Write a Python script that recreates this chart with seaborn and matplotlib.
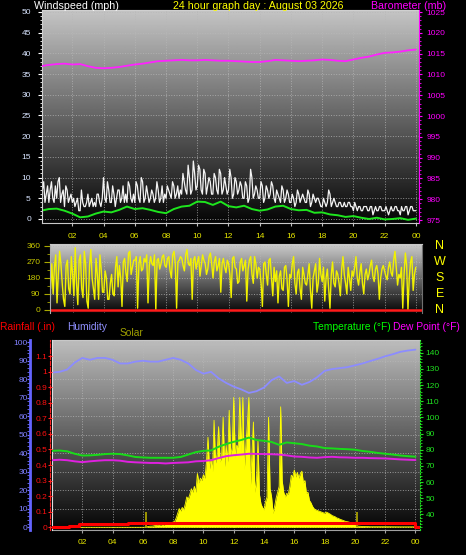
import numpy as np
import matplotlib
matplotlib.use("Agg")
import matplotlib.pyplot as plt
import matplotlib.transforms as mtransforms
from matplotlib.ticker import MultipleLocator, FixedLocator, FuncFormatter
import seaborn as sns

# ------------------------------------------------------------------ data
hour_ticks = [2, 4, 6, 8, 10, 12, 14, 16, 18, 20, 22, 24]
hour_labels = ["02", "04", "06", "08", "10", "12", "14", "16", "18", "20", "22", "00"]

# 5-minute samples (0h .. 24h), one row per hour
wind_gust = [5, 7, 9, 4, 6, 8, 4, 7, 9, 5, 4, 8,
             5, 9, 10, 4, 6, 7, 3, 8, 7, 4, 5, 6,
             4, 5, 3, 4, 5, 2, 2, 7, 4, 3, 3, 4,
             6, 3, 4, 5, 3, 4, 3, 6, 6, 4, 3, 5,
             10, 5, 4, 9, 7, 4, 4, 8, 6, 3, 5, 7,
             7, 4, 5, 8, 4, 6, 4, 9, 8, 5, 4, 6,
             4, 9, 8, 5, 4, 10, 9, 4, 5, 8, 6, 4,
             5, 7, 6, 4, 5, 9, 7, 4, 5, 8, 4, 6,
             5, 8, 7, 6, 5, 9, 8, 5, 6, 8, 5, 7,
             6, 11, 9, 7, 6, 13, 10, 6, 7, 14, 11, 7,
             8, 13, 12, 7, 6, 12, 11, 6, 8, 10, 9, 6,
             6, 11, 10, 7, 6, 12, 11, 6, 7, 10, 8, 6,
             7, 12, 10, 5, 6, 10, 9, 6, 7, 9, 8, 5,
             5, 9, 8, 4, 5, 12, 10, 5, 6, 8, 7, 5,
             5, 9, 8, 4, 5, 8, 7, 5, 6, 9, 8, 5,
             4, 7, 6, 5, 4, 8, 7, 4, 5, 7, 6, 4,
             4, 6, 5, 3, 4, 7, 6, 4, 5, 6, 5, 4,
             4, 7, 6, 3, 4, 6, 5, 4, 5, 5, 4, 3,
             3, 5, 4, 3, 4, 7, 6, 3, 4, 5, 4, 3,
             3, 4, 4, 3, 3, 4, 3, 3, 4, 4, 3, 3,
             2, 4, 3, 2, 3, 3, 2, 2, 3, 3, 3, 2,
             2, 3, 3, 1, 2, 3, 2, 2, 3, 3, 2, 2,
             2, 3, 2, 1, 2, 3, 2, 2, 3, 3, 2, 2,
             1, 3, 2, 2, 3, 3, 1, 2, 3, 3, 2, 2,
             2]

wind_dir = [270, 200, 150, 60, 240, 300, 180, 120, 260, 90, 240, 310,
            40, 200, 330, 260, 150, 60, 20, 250, 280, 120, 90, 300,
            200, 80, 350, 150, 30, 280, 310, 120, 70, 330, 260, 50,
            10, 250, 340, 180, 120, 60, 290, 200, 60, 310, 230, 100,
            100, 220, 180, 60, 60, 150, 200, 90, 80, 240, 300, 130,
            250, 180, 20, 270, 290, 210, 160, 320, 330, 200, 240, 280,
            280, 300, 10, 260, 300, 220, 230, 290, 270, 310, 40, 250,
            300, 260, 250, 310, 0, 280, 290, 230, 260, 300, 310, 250,
            240, 290, 300, 220, 180, 310, 330, 260, 10, 270, 280, 300,
            290, 250, 220, 310, 340, 260, 250, 290, 60, 280, 300, 230,
            270, 300, 190, 250, 310, 280, 260, 200, 230, 300, 320, 260,
            180, 270, 300, 220, 250, 290, 100, 260, 290, 240, 210, 280,
            260, 200, 70, 290, 300, 240, 230, 150, 160, 270, 290, 220,
            250, 280, 50, 230, 280, 300, 200, 150, 300, 260, 180, 240,
            230, 150, 20, 260, 270, 200, 140, 280, 290, 180, 80, 240,
            160, 220, 40, 190, 220, 120, 110, 240, 250, 170, 20, 200,
            180, 260, 300, 150, 90, 210, 230, 120, 60, 240, 200, 150,
            140, 200, 260, 110, 10, 180, 220, 260, 100, 150, 290, 200,
            160, 240, 50, 180, 230, 120, 10, 200, 270, 150, 130, 220,
            200, 150, 80, 230, 300, 200, 150, 90, 240, 180, 110, 220,
            190, 240, 300, 180, 140, 210, 260, 150, 90, 200, 230, 170,
            200, 250, 280, 190, 160, 230, 250, 200, 60, 180, 230, 250,
            220, 190, 170, 240, 270, 210, 190, 280, 330, 240, 140, 200,
            180, 240, 10, 200, 320, 250, 0, 180, 270, 300, 110, 200,
            240]

# half-hourly samples (0h .. 24h)
wind_avg = [2.0, 2.4, 2.5, 2.0, 1.3, 0.4, 0.6, 1.3, 1.8, 1.6, 2.2, 3.0, 2.4, 2.6, 2.2, 1.7, 1.4,
            2.4, 3.0, 3.2, 4.2, 4.1, 3.4, 4.2, 3.1, 2.8, 3.2, 2.4, 2.0, 2.3, 3.0, 3.2, 2.4, 2.1,
            2.2, 1.5, 1.6, 1.1, 0.9, 0.5, 0.7, 0.3, 0.0, 0.3, -0.1, 0.0, 0.2, -0.2, 0.1]

barometer = [1012.0, 1012.3, 1012.5, 1012.6, 1012.4, 1012.5, 1012.0, 1011.6, 1011.5, 1011.6,
             1011.8, 1012.1, 1012.4, 1012.6, 1012.9, 1013.2, 1013.3, 1013.4, 1013.5, 1013.4,
             1013.4, 1013.5, 1013.4, 1013.3, 1013.3, 1013.2, 1013.1, 1013.0, 1013.0, 1013.2,
             1013.5, 1013.4, 1013.3, 1013.2, 1013.3, 1013.4, 1013.6, 1013.5, 1013.3, 1013.2,
             1013.6, 1014.0, 1014.3, 1014.8, 1015.2, 1015.3, 1015.5, 1015.8, 1016.0]

humidity = [83.6, 84.0, 85.2, 89.0, 91.5, 90.5, 91.5, 91.5, 90.5, 88.5, 88.5, 89.5, 90.0, 89.5,
            89.5, 90.5, 91.5, 90.5, 88.5, 85.0, 83.0, 84.0, 80.5, 78.0, 76.0, 74.5, 72.6, 73.5,
            75.5, 79.5, 81.5, 78.0, 79.0, 77.0, 78.5, 81.0, 84.5, 85.5, 86.0, 86.5, 87.5, 88.5,
            89.8, 91.0, 92.4, 93.5, 94.8, 95.5, 96.0]

temperature = [79.3, 79.5, 79.0, 77.5, 76.4, 76.5, 76.8, 77.3, 77.5, 77.3, 76.5, 75.5, 75.2,
               75.0, 75.0, 75.0, 75.0, 75.5, 77.0, 78.5, 79.3, 79.5, 81.8, 83.5, 84.9, 86.0,
               87.5, 86.0, 85.5, 84.8, 83.0, 84.5, 84.0, 83.5, 82.5, 82.0, 81.0, 80.8, 80.5,
               80.3, 80.0, 79.2, 78.7, 78.0, 77.5, 77.0, 76.4, 76.0, 75.7]

dew_point = [73.5, 73.8, 73.5, 72.8, 72.3, 72.8, 73.2, 73.5, 73.5, 73.2, 72.5, 72.2, 72.0, 71.8,
             71.8, 71.5, 71.8, 72.0, 72.2, 72.8, 73.0, 73.5, 74.8, 76.0, 76.6, 77.0, 77.5, 77.4,
             77.3, 77.2, 77.0, 76.5, 75.8, 75.6, 75.2, 75.0, 75.4, 75.6, 75.3, 75.2, 75.0, 75.0,
             74.8, 74.7, 74.6, 74.3, 74.0, 73.8, 73.6]

# solar radiation, every 0.1 h from 6.0 h to 21.0 h
solar_day = [0, 0, 5, 5, 8, 10, 10, 12, 15, 15,
             18, 15, 20, 25, 20, 30, 25, 35, 30, 40,
             45, 50, 80, 120, 160, 140, 170, 150, 200, 260,
             240, 280, 330, 300, 350, 300, 460, 380, 420, 400,
             450, 420, 560, 770, 500, 580, 480, 915, 550, 620,
             860, 560, 600, 940, 520, 700, 560, 1000, 620, 680,
             1110, 600, 700, 685, 1110, 650, 1110, 500, 700, 880,
             1110, 345, 620, 900, 300, 400, 745, 280, 200, 170,
             150, 220, 260, 940, 330, 260, 120, 180, 250, 300,
             350, 1030, 400, 300, 260, 290, 280, 350, 445, 430,
             490, 430, 470, 420, 460, 480, 380, 400, 290, 300,
             230, 210, 180, 160, 150, 145, 140, 135, 130, 125,
             120, 130, 125, 118, 110, 100, 95, 90, 80, 77,
             70, 65, 60, 55, 50, 48, 45, 40, 38, 30,
             25, 15, 10, 9, 8, 7, 7, 6, 6, 6,
             5]
solar_night_hours_am = [0.0, 5.9]
solar_night_am = [0, 0]
solar_night_hours_pm = [22.0, 23.0, 24.0, 24.05]
solar_night_pm = [5, 4, 4, 0]
sun_marks = [6.22, 20.15]
sun_mark_height = 130

rain_hours = [0.0, 1.1, 1.75, 5.0, 24.0, 24.3]
rain_in = [0.0, 0.01, 0.02, 0.03, 0.0, 0.0]

h5 = np.arange(len(wind_gust)) / 12.0
h30 = np.arange(len(wind_avg)) / 2.0
solar_hours = np.concatenate([solar_night_hours_am,
                              np.round(np.arange(60, 60 + len(solar_day)) / 10.0, 1),
                              solar_night_hours_pm])
solar_all = np.concatenate([solar_night_am, solar_day, solar_night_pm])

# ------------------------------------------------------------------ style
sns.set_style("ticks", rc={"figure.facecolor": "black", "axes.facecolor": "none"})
plt.rcParams['font.family'] = ['Liberation Sans', 'DejaVu Sans']

W, H = 466, 555
fig = plt.figure(figsize=(W / 100, H / 100), dpi=100, facecolor='black')


def rect(x0, y0, x1, y1):
    return [x0 / W, 1 - y1 / H, (x1 - x0) / W, (y1 - y0) / H]


def add_bg(r, top, bot):
    bg = fig.add_axes(r)
    grad = np.linspace(top, bot, 256).reshape(-1, 1)
    bg.imshow(grad, aspect='auto', cmap='gray', vmin=0, vmax=1,
              extent=[0, 1, 0, 1], origin='upper', interpolation='bilinear')
    bg.set_axis_off()
    return bg


def hide_spines(ax, keep=()):
    for k, s in ax.spines.items():
        s.set_visible(k in keep)


GRID = dict(color='#b8b8b8', linestyle=':', linewidth=0.7, alpha=0.75)
TICKFS = 6

# ------------------------------------------------------------------ panel 1 : wind / barometer
r1 = rect(42, 10, 419, 223)
add_bg(r1, 0.77, 0.02)
ax1 = fig.add_axes(r1)
ax1.patch.set_visible(False)
sns.lineplot(x=h5, y=wind_gust, ax=ax1, color='#f4f4f4', lw=0.9, errorbar=None, legend=False)
sns.lineplot(x=h30, y=wind_avg, ax=ax1, color='#1ee61e', lw=1.4, errorbar=None, legend=False)
ax1.set_ylim(-0.97, 50.48)
ax1.xaxis.set_major_locator(FixedLocator(hour_ticks))
ax1.set_xticklabels(hour_labels)
ax1.yaxis.set_major_locator(MultipleLocator(5))
ax1.yaxis.set_minor_locator(MultipleLocator(1))
ax1.tick_params(axis='x', colors='#c0c0c0', labelcolor='#e8e800', labelsize=TICKFS, length=2, pad=5)
ax1.tick_params(axis='y', which='major', colors='#ffffff', labelcolor='#d8e4ff',
                labelsize=TICKFS, length=3, pad=5)
ax1.tick_params(axis='y', which='minor', colors='#ffffff', length=1.5)
ax1.set_axisbelow(True)
ax1.grid(True, **GRID)
hide_spines(ax1, ('left', 'bottom', 'top'))
ax1.spines['left'].set_color('#d0d0d0')
ax1.spines['bottom'].set_color('#c8c8c8')
ax1.spines['top'].set_color('#d0d0d0')
ax1.set_xlabel('')
ax1.set_ylabel('')

ax1b = ax1.twinx()
sns.lineplot(x=h30, y=barometer, ax=ax1b, color='#ff22ff', lw=1.3, errorbar=None, legend=False)
ax1b.set_ylim(974.3, 1025.5)
ax1b.yaxis.set_major_locator(MultipleLocator(5))
ax1b.yaxis.set_minor_locator(MultipleLocator(1))
ax1b.tick_params(axis='y', which='major', colors='#ff00ff', labelcolor='#ff00ff',
                 labelsize=TICKFS, length=2.5, pad=3)
ax1b.tick_params(axis='y', which='minor', colors='#ff00ff', length=1.5)
hide_spines(ax1b, ('right',))
ax1b.spines['right'].set_color('#ff00ff')
ax1b.set_ylabel('')
ax1.set_xlim(0.06, 24.2)

fig.text(34 / W, 1 - 6 / H, "Windspeed (mph)", color='white', fontsize=7.7, ha='left', va='center')
fig.text(173 / W, 1 - 6 / H, "24 hour graph day : August 03 2026", color='#ffff00',
         fontsize=7.7, ha='left', va='center')
fig.text(371 / W, 1 - 6 / H, "Barometer (mb)", color='#ff00ff', fontsize=7.7, ha='left', va='center')

# ------------------------------------------------------------------ panel 2 : wind direction
r2 = rect(50, 244, 422, 313)
add_bg(r2, 0.80, 0.02)
ax2 = fig.add_axes(r2)
ax2.patch.set_visible(False)
sns.lineplot(x=h5, y=wind_dir, ax=ax2, color='#f2f200', lw=1.0, errorbar=None, legend=False)
ax2.axhline(0, color='#ff1a1a', lw=1.8)
ax2.set_ylim(-17, 371)
ax2.set_xlim(0.55, 24.4)
ax2.xaxis.set_major_locator(FixedLocator(hour_ticks))
ax2.tick_params(axis='x', length=0, labelbottom=False)
ax2.yaxis.set_major_locator(FixedLocator([0, 90, 180, 270, 360]))
ax2.yaxis.set_minor_locator(MultipleLocator(45))
ax2.tick_params(axis='y', which='major', colors='#a8a800', labelcolor='#c8c800',
                labelsize=TICKFS, length=4, pad=3)
ax2.tick_params(axis='y', which='minor', colors='#a8a800', length=2)
ax2.set_axisbelow(True)
ax2.grid(True, **GRID)
hide_spines(ax2, ('left', 'top', 'right'))
ax2.spines['left'].set_color('#b0b0b0')
ax2.spines['top'].set_color('#c8c8c8')
ax2.spines['right'].set_color('#707070')
ax2.set_xlabel('')
ax2.set_ylabel('')

trans2 = mtransforms.blended_transform_factory(fig.transFigure, ax2.transData)
for d, lab in zip([360, 270, 180, 90, 0], ['N', 'W', 'S', 'E', 'N']):
    ax2.text(440 / W, d, lab, transform=trans2, color='#ffff00', fontsize=9,
             ha='center', va='center', clip_on=False)

# ------------------------------------------------------------------ panel 3 : humidity / solar / temp / rain
r3 = rect(52, 340, 420, 530)
add_bg(r3, 0.74, 0.02)
ax3 = fig.add_axes(r3)           # humidity (base)
ax3.patch.set_visible(False)
sns.lineplot(x=h30, y=humidity, ax=ax3, color='#8c8cff', lw=1.3, errorbar=None, legend=False)
ax3.set_ylim(-1.5, 101.2)
ax3.xaxis.set_major_locator(FixedLocator(hour_ticks))
ax3.set_xticklabels(hour_labels)
ax3.tick_params(axis='x', colors='#a0a0a0', labelcolor='#e8e800', labelsize=TICKFS, length=2, pad=4.5)
ax3.yaxis.set_major_locator(MultipleLocator(10))
ax3.yaxis.set_minor_locator(MultipleLocator(2))
ax3.tick_params(axis='y', which='major', colors='#7070ff', labelcolor='#8080ff',
                labelsize=TICKFS, length=2, pad=-0.5)
ax3.tick_params(axis='y', which='minor', colors='#7070ff', length=2)
ax3.set_axisbelow(True)
ax3.grid(True, **GRID)
hide_spines(ax3, ('left', 'bottom', 'top'))
ax3.spines['left'].set_position(('outward', 16))
ax3.spines['left'].set_color('#6464ff')
ax3.spines['left'].set_linewidth(2)
ax3.spines['bottom'].set_color('#a0a0a0')
ax3.spines['top'].set_color('#c8c8c8')
ax3.set_xlabel('')
ax3.set_ylabel('')

ax3s = ax3.twinx()               # solar
ax3s.fill_between(solar_hours, 0, solar_all, color='#ffff00', lw=0)
sns.lineplot(x=solar_hours, y=solar_all, ax=ax3s, color='#ffff00', lw=0.6, errorbar=None, legend=False)
ax3s.vlines(sun_marks, 0, sun_mark_height, color='#a8a000', lw=1.3)
ax3s.set_ylim(-23, 1601)
ax3s.tick_params(axis='y', left=False, right=False, labelleft=False, labelright=False)
hide_spines(ax3s, ('left',))
ax3s.spines['left'].set_color('#e0e0e0')
ax3s.set_ylabel('')

ax3t = ax3.twinx()               # temperature / dew point
sns.lineplot(x=h30, y=temperature, ax=ax3t, color='#18dc18', lw=1.4, errorbar=None, legend=False)
sns.lineplot(x=h30, y=dew_point, ax=ax3t, color='#e020e0', lw=1.4, errorbar=None, legend=False)
ax3t.set_ylim(30.3, 147.9)
ax3t.yaxis.set_major_locator(FixedLocator(list(range(40, 150, 10))))
ax3t.yaxis.set_minor_locator(MultipleLocator(2))
ax3t.tick_params(axis='y', which='major', colors='#20e020', labelcolor='#20e020',
                 labelsize=TICKFS, length=2, pad=2)
ax3t.tick_params(axis='y', which='minor', colors='#20e020', length=1.2)
hide_spines(ax3t, ('right',))
ax3t.spines['right'].set_color('#20e020')
ax3t.spines['right'].set_linestyle(':')
ax3t.set_ylabel('')

ax3r = ax3.twinx()               # rainfall
sns.lineplot(x=rain_hours, y=rain_in, ax=ax3r, color='#ff0000', lw=2.2, errorbar=None,
             legend=False, drawstyle='steps-post')
ax3r.set_ylim(-0.017, 1.203)
ax3r.yaxis.tick_left()
ax3r.yaxis.set_label_position('left')
ax3r.yaxis.set_major_locator(FixedLocator([round(0.1 * i, 1) for i in range(12)]))
ax3r.yaxis.set_major_formatter(FuncFormatter(lambda v, p: f"{round(v, 1):g}"))
ax3r.tick_params(axis='y', which='major', colors='#ff2020', labelcolor='#ff1010',
                 labelsize=TICKFS, length=3, direction='inout', pad=0.5)
hide_spines(ax3r, ('left',))
ax3r.spines['left'].set_position(('outward', 1.5))
ax3r.spines['left'].set_color('#ff2020')
ax3r.spines['left'].set_linestyle('--')
ax3r.set_ylabel('')
ax3.set_xlim(0.0, 24.3)

fig.text(0 / W, 1 - 327 / H, "Rainfall (.in)", color='#ff0000', fontsize=7.4, ha='left', va='center')
fig.text(67 / W, 1 - 327 / H, "Humidity", color='#9090ff', fontsize=7.4, ha='left', va='center')
fig.text(120 / W, 1 - 333 / H, "Solar", color='#a0a000', fontsize=7.4, ha='left', va='center')
fig.text(313 / W, 1 - 327 / H, "Temperature (°F)", color='#00ff00', fontsize=7.4, ha='left', va='center')
fig.text(393 / W, 1 - 327 / H, "Dew Point (°F)", color='#ff00ff', fontsize=7.4, ha='left', va='center')

fig.savefig("out.png", dpi=100, facecolor='black')
